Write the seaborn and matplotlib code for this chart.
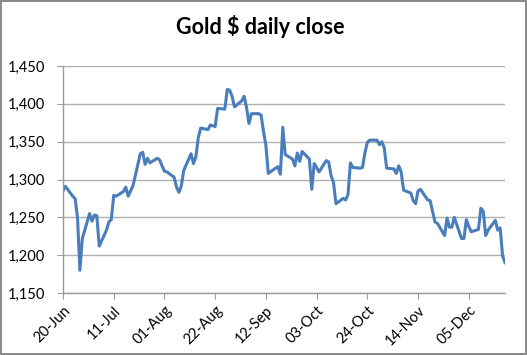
import pandas as pd
import seaborn as sns
import matplotlib.pyplot as plt
import matplotlib.dates as mdates
from matplotlib.ticker import FuncFormatter

# gold daily close, 2013, one value per weekday (20 Jun - 20 Dec)
jun = [1285, 1291, 1278, 1275, 1250, 1180, 1222]
jul = [1255, 1245, 1253, 1252, 1212,
       1233, 1244, 1247, 1279, 1278,
       1284, 1290, 1278, 1285, 1292,
       1334, 1336, 1320, 1328, 1322,
       1328, 1326, 1318]
aug = [1311, 1310,
       1303, 1290, 1283, 1292, 1312,
       1334, 1321, 1330, 1355, 1368,
       1366, 1372, 1371, 1370, 1394,
       1393, 1419, 1418, 1410, 1396]
sep = [1404, 1410, 1395, 1374, 1387,
       1387, 1385, 1364, 1345, 1308,
       1315, 1317, 1307, 1369, 1333,
       1327, 1318, 1335, 1324, 1337,
       1327]
oct_ = [1287, 1321, 1316, 1310,
        1325, 1323, 1305, 1296, 1268,
        1275, 1273, 1280, 1322, 1316,
        1315, 1316, 1335, 1349, 1352,
        1352, 1346, 1350, 1342]
nov = [1315,
       1314, 1308, 1318, 1310, 1286,
       1282, 1272, 1268, 1285, 1287,
       1273, 1272, 1258, 1244, 1242,
       1226, 1249, 1237, 1237, 1250]
dec = [1222, 1222, 1247, 1238, 1231,
       1234, 1262, 1258, 1226, 1233,
       1246, 1233, 1236, 1199, 1190]

dates = pd.bdate_range('2013-06-20', '2013-12-20')
close = jun + jul + aug + sep + oct_ + nov + dec
df = pd.DataFrame({'Date': dates, 'Close': close})

tick_dates = pd.date_range('2013-06-20', '2013-12-05', freq='21D')

plt.rcParams['font.family'] = ['Lato', 'DejaVu Sans']

fig = plt.figure(figsize=(5.27, 3.55), dpi=100)
fig.patch.set_edgecolor('#8c8c8c')
fig.patch.set_linewidth(1.5)
ax = fig.add_axes([63/527, 62/355, 442/527, 227/355])

sns.lineplot(x='Date', y='Close', data=df, ax=ax, color='#4A7EBB', linewidth=2.2)

fig.text(0.494, 1 - 34/355, 'Gold $ daily close', fontsize=15.5, fontweight='bold',
         ha='center', va='baseline')
ax.set_xlabel('')
ax.set_ylabel('')
ax.set_ylim(1150, 1450)
ax.set_yticks(range(1150, 1451, 50))
ax.yaxis.set_major_formatter(FuncFormatter(lambda v, p: f'{v:,.0f}'))
ax.set_xlim(dates[0], dates[-1])
ax.set_xticks(tick_dates)
ax.xaxis.set_major_formatter(mdates.DateFormatter('%d-%b'))
plt.setp(ax.get_xticklabels(), rotation=45, ha='right', rotation_mode='anchor')

ax.grid(axis='y', color='#b0b0b0', linewidth=1)
ax.set_axisbelow(True)
for s in ['top', 'right']:
    ax.spines[s].set_visible(False)
for s in ['left', 'bottom']:
    ax.spines[s].set_color('#9a9a9a')
    ax.spines[s].set_linewidth(1)
ax.tick_params(axis='both', colors='#9a9a9a', labelcolor='black', labelsize=10.5, length=4)
ax.tick_params(axis='y', pad=9)

fig.savefig('out.png', dpi=100)
